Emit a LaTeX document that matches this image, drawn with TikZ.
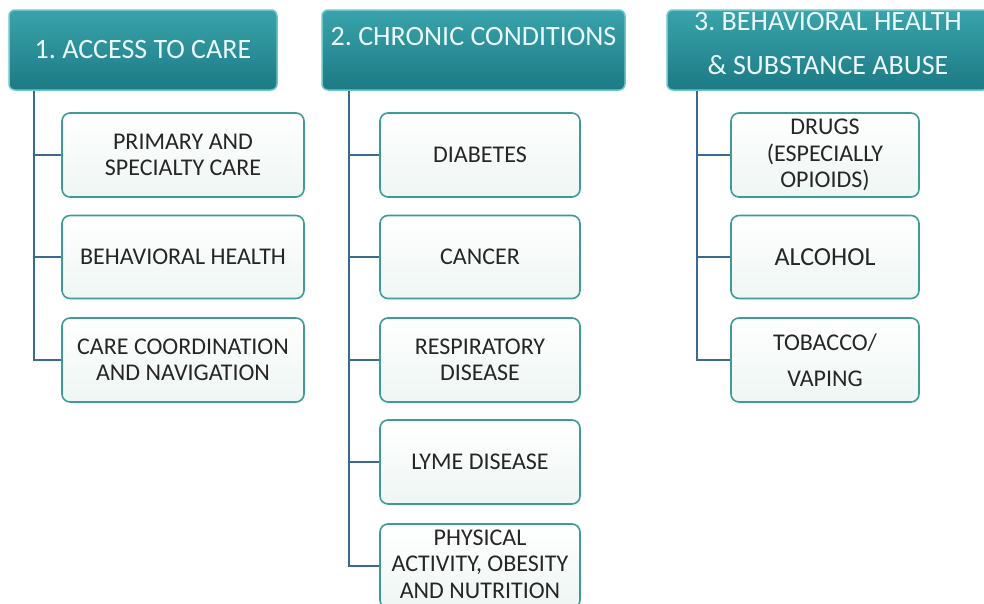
\documentclass[tikz,border=0pt]{standalone}
\usepackage{fontspec}
\setmainfont{Carlito}
\usetikzlibrary{calc}
\frenchspacing

\definecolor{headtop}{HTML}{3AA3AB}
\definecolor{headbot}{HTML}{1C7A84}
\definecolor{headrim}{HTML}{6CC6CC}
\definecolor{itemrim}{HTML}{3E9C96}
\definecolor{itembot}{HTML}{EEF6F4}
\definecolor{linkcol}{HTML}{3A6A92}
\definecolor{inktxt}{HTML}{262626}

\tikzset{
  head/.style={draw=headrim, line width=1.5pt, rounded corners=6pt,
    top color=headtop, bottom color=headbot, text=white!92!cyan,
    font=\fontsize{28}{33}\selectfont, inner sep=0pt, minimum height=80pt},
  item/.style={draw=itemrim, line width=1.6pt, rounded corners=8pt,
    top color=white, bottom color=itembot, text=inktxt, align=center,
    font=\fontsize{24}{26.5}\selectfont, inner sep=0pt, minimum height=84pt},
  link/.style={draw=linkcol, line width=1.6pt}
}

\begin{document}
\begin{tikzpicture}[x=1pt, y=-1pt]
			%%%%% FRAME %%%%%
			\clip (0, 0) rectangle (984, 603);
			\fill[white] (0, 0) rectangle (984, 603);

			%%%%% HEADERS %%%%%
			\node[head, minimum width=268pt] (acc) at (143, 50) {1. ACCESS TO CARE};
			\node[head, minimum width=303pt, text depth=28pt] (chr) at (473.5, 50) {2. CHRONIC CONDITIONS};
			\node[head, minimum width=322pt, align=center, text depth=14pt] (beh) at (828, 50)
				{3. BEHAVIORAL HEALTH\\[11pt] \& SUBSTANCE ABUSE};

			%%%%% ACCESS TO CARE %%%%%
			\node[item, minimum width=242pt] (acc1) at (183, 155) {PRIMARY AND\\ SPECIALTY CARE};
			\node[item, minimum width=242pt, minimum height=83pt] (acc2) at (183, 257) {BEHAVIORAL HEALTH};
			\node[item, minimum width=242pt] (acc3) at (183, 360) {CARE COORDINATION\\ AND NAVIGATION};

			%%%%% CHRONIC CONDITIONS %%%%%
			\node[item, minimum width=200pt] (chr1) at (480, 155) {DIABETES};
			\node[item, minimum width=200pt, minimum height=83pt] (chr2) at (480, 257) {CANCER};
			\node[item, minimum width=200pt] (chr3) at (480, 360) {RESPIRATORY\\ DISEASE};
			\node[item, minimum width=200pt] (chr4) at (480, 462) {LYME DISEASE};
			\node[item, minimum width=200pt, text depth=4pt] (chr5) at (480, 566) {PHYSICAL\\ ACTIVITY, OBESITY\\ AND NUTRITION};

			%%%%% BEHAVIORAL HEALTH & SUBSTANCE ABUSE %%%%%
			\node[item, minimum width=188pt] (beh1) at (825, 155) {DRUGS\\ (ESPECIALLY\\ OPIOIDS)};
			\node[item, minimum width=188pt, minimum height=83pt, font=\fontsize{26}{30}\selectfont] (beh2) at (825, 257) {ALCOHOL};
			\node[item, minimum width=188pt] (beh3) at (825, 360) {TOBACCO/\\[9pt] VAPING};

			%%%%% CONNECTORS %%%%%
			\coordinate (accT) at ([xshift=26pt]acc.south west);
			\coordinate (chrT) at ([xshift=28pt]chr.south west);
			\coordinate (behT) at ([xshift=31pt]beh.south west);

			\draw[link] (accT) |- (acc1.west);
			\draw[link] (accT) |- (acc2.west);
			\draw[link] (accT) |- (acc3.west);

			\draw[link] (chrT) |- (chr1.west);
			\draw[link] (chrT) |- (chr2.west);
			\draw[link] (chrT) |- (chr3.west);
			\draw[link] (chrT) |- (chr4.west);
			\draw[link] (chrT) |- (chr5.west);

			\draw[link] (behT) |- (beh1.west);
			\draw[link] (behT) |- (beh2.west);
			\draw[link] (behT) |- (beh3.west);
			%%%%% END %%%%%
\end{tikzpicture}
\end{document}
